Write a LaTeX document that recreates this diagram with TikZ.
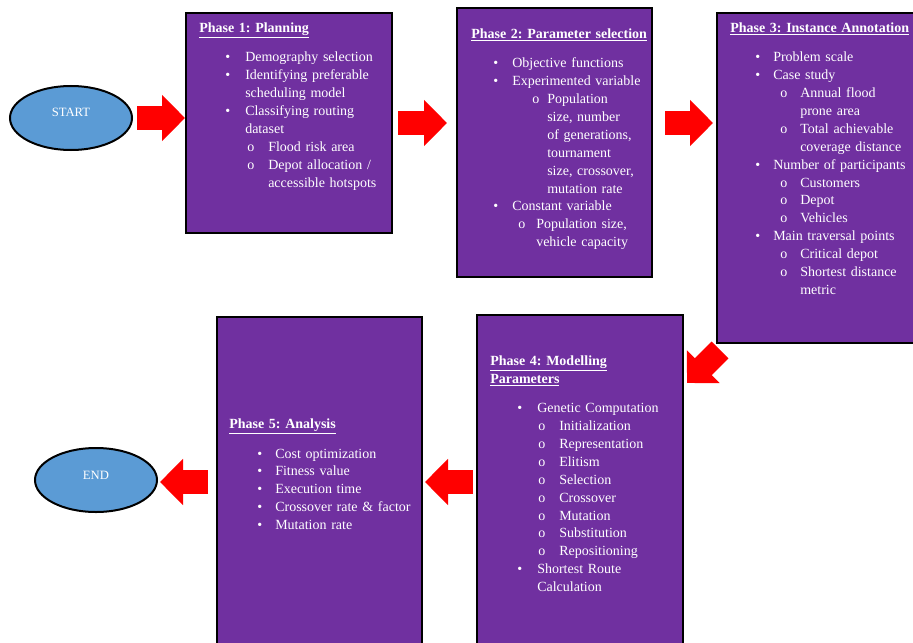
\documentclass[tikz,border=0pt]{standalone}
\usepackage{fontspec}
\setmainfont{Liberation Serif}
\usetikzlibrary{arrows.meta,shapes.geometric,calc}

\definecolor{phasepurple}{HTML}{7030A0}
\definecolor{termblue}{HTML}{5B9BD5}

% one pixel of the layout
\newlength{\pxunit}
\setlength{\pxunit}{0.75pt}

\newcommand{\phasetitle}[2]{\par\noindent\hangindent=#1\pxunit\hangafter=0 #2\par\vspace{9pt}}
\newcommand{\listline}[4]{\par\noindent\hangindent=#3\pxunit\hangafter=1\hspace*{#2\pxunit}\makebox[\dimexpr#3\pxunit-#2\pxunit\relax][l]{#1}#4\par}
\newcommand{\dotitem}[3]{\listline{\textbullet}{#1}{#2}{#3}}
\newcommand{\oitem}[3]{\listline{o}{#1}{#2}{#3}}

\frenchspacing

\begin{document}
\begin{tikzpicture}[x=0.75pt, y=-0.75pt,
	phase/.style={draw=black, line width=2pt, fill=phasepurple, anchor=north west, inner sep=0pt, outer sep=0pt},
	phasetext/.style={anchor=north west, inner sep=0pt, text=white, font=\fontsize{10.5}{13.4}\selectfont},
	terminal/.style={ellipse, draw=black, line width=1.5pt, fill=termblue, text=white, minimum width=91.5pt, minimum height=48pt, inner sep=0pt, outer sep=0pt, font=\fontsize{9.5}{11}\selectfont},
	bigarrow/.style={draw=red, line width=18pt, -{Triangle[length=17.25pt, width=33.75pt]}}]

\useasboundingbox (0,0) rectangle (913,642);
\clip (0,0) rectangle (913,642);

% START / END
\node [terminal] (start) at (71,118) {\raisebox{9pt}{START}};
\node [terminal] (end) at (96,480) {\raisebox{7.5pt}{END}};

% PHASES
\node [phase, minimum width=154.5pt, minimum height=165pt] (p1) at (186,13) {};
\node [phase, minimum width=146.25pt, minimum height=201.75pt] (p2) at (457,8) {};
\node [phase, minimum width=159.75pt, minimum height=247.5pt] (p3) at (717,13) {};
\node [phase, minimum width=154.5pt, minimum height=250.5pt] (p4) at (477,315) {};
\node [phase, minimum width=153.75pt, minimum height=247.5pt] (p5) at (217,317) {};

\node [phasetext, text width=154.5pt] (p1txt) at (186,14) {%
	\phasetitle{13}{\underline{\textbf{Phase 1: Planning}}}
	\dotitem{39}{59}{Demography selection}
	\dotitem{39}{59}{Identifying preferable\newline scheduling model}
	\dotitem{39}{59}{Classifying routing\newline dataset}
	\oitem{61}{82}{Flood risk area}
	\oitem{61}{82}{Depot allocation /\newline accessible hotspots}};

\node [phasetext, text width=146.25pt] (p2txt) at (457,20) {%
	\phasetitle{14}{\underline{\textbf{Phase 2: Parameter selection}}}
	\dotitem{36}{55}{Objective functions}
	\dotitem{36}{55}{Experimented variable}
	\oitem{75}{90}{Population\newline size, number\newline of generations,\newline tournament\newline size, crossover,\newline mutation rate}
	\dotitem{36}{55}{Constant variable}
	\oitem{61}{79}{Population size,\newline vehicle capacity}};

\node [phasetext, text width=159.75pt] (p3txt) at (717,14) {%
	\phasetitle{13}{\underline{\textbf{Phase 3: Instance Annotation}}}
	\dotitem{38}{56}{Problem scale}
	\dotitem{38}{56}{Case study}
	\oitem{63}{83}{Annual flood\newline prone area}
	\oitem{63}{83}{Total achievable\newline coverage distance}
	\dotitem{38}{56}{Number of participants}
	\oitem{63}{83}{Customers}
	\oitem{63}{83}{Depot}
	\oitem{63}{83}{Vehicles}
	\dotitem{38}{56}{Main traversal points}
	\oitem{63}{83}{Critical depot}
	\oitem{63}{83}{Shortest distance\newline metric}};

\node [phasetext, text width=154.5pt] (p4txt) at (477,347) {%
	\phasetitle{13}{\underline{\textbf{Phase 4: Modelling}}\newline\underline{\textbf{Parameters}}}
	\dotitem{40}{60}{Genetic Computation}
	\oitem{61}{82}{Initialization}
	\oitem{61}{82}{Representation}
	\oitem{61}{82}{Elitism}
	\oitem{61}{82}{Selection}
	\oitem{61}{82}{Crossover}
	\oitem{61}{82}{Mutation}
	\oitem{61}{82}{Substitution}
	\oitem{61}{82}{Repositioning}
	\dotitem{40}{60}{Shortest Route\newline Calculation}};

\node [phasetext, text width=153.75pt] (p5txt) at (217,410) {%
	\phasetitle{12}{\underline{\textbf{Phase 5: Analysis}}}
	\dotitem{40}{58}{Cost optimization}
	\dotitem{40}{58}{Fitness value}
	\dotitem{40}{58}{Execution time}
	\dotitem{40}{58}{Crossover rate \& factor}
	\dotitem{40}{58}{Mutation rate}};

% ARROWS
\draw [bigarrow, shorten <=3.75pt, shorten >=0.75pt] (start.east) -- (start.east -| p1.west);
\draw [bigarrow, shorten <=4.5pt, shorten >=7.5pt] (p1.east) -- (p1.east -| p2.west);
\draw [bigarrow, shorten <=9.75pt, shorten >=3pt] (p1.east -| p2.east) -- (p1.east -| p3.west);
\draw [bigarrow] ($(p3.south west)+(3,7)$) -- ($(p4.north east)+(4,68)$);
\draw [bigarrow, shorten <=3pt, shorten >=2.25pt] (p4.west) -- (p5.east);
\draw [bigarrow, shorten <=6.75pt, shorten >=2.25pt] (p5.west) -- (p5.west -| end.east);

\end{tikzpicture}
\end{document}
